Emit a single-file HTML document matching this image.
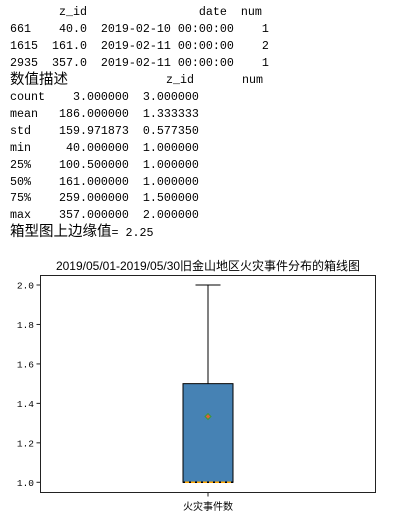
<!DOCTYPE html>
<html><head><meta charset="utf-8"><style>
body{margin:0;width:402px;height:520px;background:#fff;position:relative;overflow:hidden}
.t{position:absolute;left:10px;font-family:"Liberation Mono","Noto Sans CJK SC",monospace;font-size:11.67px;white-space:pre;color:#000;line-height:14px}
.c{position:absolute;font-family:"Liberation Sans","Noto Sans CJK SC",sans-serif;font-size:14.5px;white-space:pre;line-height:16px}
</style></head><body>
<div class="t" style="top:5px">       z_id                date  num</div>
<div class="t" style="top:22px">661    40.0  2019-02-10 00:00:00    1</div>
<div class="t" style="top:39px">1615  161.0  2019-02-11 00:00:00    2</div>
<div class="t" style="top:56px">2935  357.0  2019-02-11 00:00:00    1</div>
<div class="c" style="left:10px;top:72px">数值描述</div>
<div class="t" style="top:73px;left:166px">z_id</div>
<div class="t" style="top:73px;left:242px">num</div>
<div class="t" style="top:90px">count    3.000000  3.000000</div>
<div class="t" style="top:107px">mean   186.000000  1.333333</div>
<div class="t" style="top:124px">std    159.971873  0.577350</div>
<div class="t" style="top:141px">min     40.000000  1.000000</div>
<div class="t" style="top:158px">25%    100.500000  1.000000</div>
<div class="t" style="top:175px">50%    161.000000  1.000000</div>
<div class="t" style="top:191px">75%    259.000000  1.500000</div>
<div class="t" style="top:208px">max    357.000000  2.000000</div>
<div class="c" style="left:10px;top:224px">箱型图上边缘值<span style="font-family:'Liberation Mono',monospace;font-size:11.67px">= 2.25</span></div>
<svg id="chart" width="402" height="270" style="position:absolute;left:0;top:250px"></svg>
<script>
const yTicks=[1.0,1.2,1.4,1.6,1.8,2.0];
const tickLabels=["1.0","1.2","1.4","1.6","1.8","2.0"];
const stats={min:1.0,q1:1.0,median:1.0,q3:1.5,max:2.0};
const meanVals=[1.333333];
const category=["火灾事件数"];
const svg=document.getElementById('chart');const NS='http://www.w3.org/2000/svg';
function y(v){return 232.3-(v-1.0)*197.3;}
const cx=208;
function el(t,a,p){const e=document.createElementNS(NS,t);for(const k in a)e.setAttribute(k,a[k]);(p||svg).appendChild(e);return e;}
const title=el('text',{x:208,y:20,'text-anchor':'middle','font-size':'12','font-family':'Liberation Sans,Noto Sans CJK SC,sans-serif'});
title.textContent='2019/05/01-2019/05/30旧金山地区火灾事件分布的箱线图';


const frame=el('rect',{x:40.5,y:25.5,width:335,height:217,fill:'none',stroke:'#222','stroke-width':1});


yTicks.forEach((v,i)=>{
 const tk=el('line',{x1:36.5,x2:40.5,y1:y(v),y2:y(v),stroke:'#222'});
 
 
 const lb=el('text',{x:34,y:y(v)+3.5,'text-anchor':'end','font-size':'9.5','font-family':'Liberation Mono,monospace'});
 lb.textContent=tickLabels[i];
 
 
});
const wl=el('line',{x1:cx,x2:cx,y1:y(stats.q3),y2:y(stats.max),stroke:'#000'});


const cap=el('line',{x1:195.5,x2:220.5,y1:y(stats.max),y2:y(stats.max),stroke:'#000'});


const box=el('rect',{x:183,y:y(stats.q3),width:50,height:y(stats.q1)-y(stats.q3),fill:'#4682b4',stroke:'#000','stroke-width':1});


const med=el('line',{x1:183,x2:233,y1:y(stats.median),y2:y(stats.median),stroke:'#ffa500','stroke-width':1.5});


const med2=el('line',{x1:183,x2:233,y1:y(stats.median),y2:y(stats.median),stroke:'#000','stroke-width':1.5,'stroke-dasharray':'2 4'});


meanVals.forEach(m=>{
 const mk=el('path',{d:`M${cx-3} ${y(m)}L${cx} ${y(m)-3}L${cx+3} ${y(m)}L${cx} ${y(m)+3}Z`,fill:'#e0603a',stroke:'#3a9a3a','stroke-width':1});
 
 
});
const xt=el('line',{x1:cx,x2:cx,y1:242.5,y2:246.5,stroke:'#222'});


const xl=el('text',{x:cx,y:260,'text-anchor':'middle','font-size':'10','font-family':'Liberation Sans,Noto Sans CJK SC,sans-serif'});
xl.textContent=category[0];


</script>
</body></html>
